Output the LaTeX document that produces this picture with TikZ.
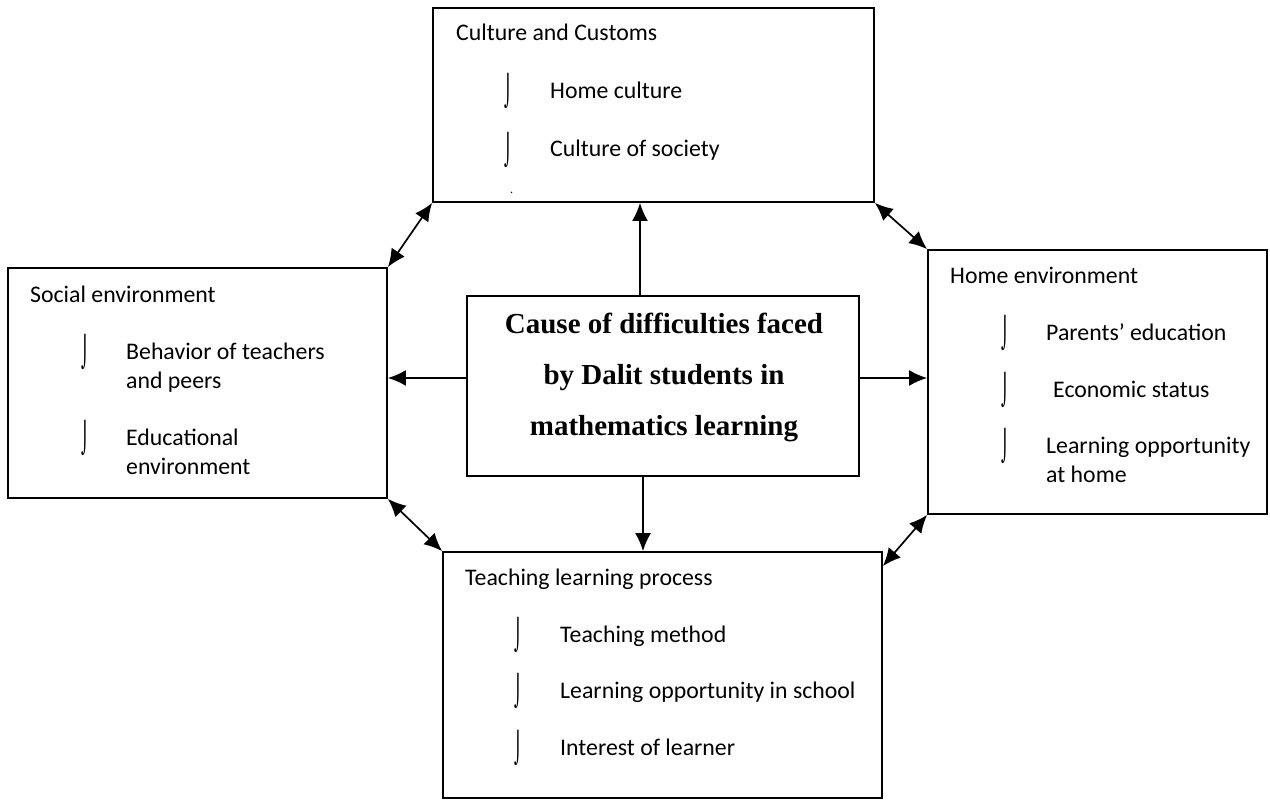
\documentclass[tikz,border=0pt]{standalone}
\usepackage{fontspec}
\setmainfont{Carlito}
\newfontfamily\titlefont{Liberation Serif}
\newfontfamily\bulletfont{DejaVu Sans}
\usetikzlibrary{arrows.meta}

\begin{document}
\begin{tikzpicture}[x=1pt,y=-1pt,
    box/.style={draw,line width=1.8pt,inner sep=0pt},
    lbl/.style={anchor=base west,inner sep=0pt,align=left,font=\fontsize{23.8}{29}\selectfont},
    bul/.style={anchor=base west,inner sep=0pt,font=\bulletfont\fontsize{30}{30}\selectfont},
    link/.style={line width=1.7pt,-{Latex[length=18pt,width=16pt]}},
    dlink/.style={line width=1.7pt,{Latex[length=18pt,width=16pt]}-{Latex[length=18pt,width=16pt]}}]
            \useasboundingbox (0,0) rectangle (1270,800);
            % boxes
            \node[box,minimum width=441pt,minimum height=194pt] (culture) at (653.5,105) {};
            \node[box,minimum width=379pt,minimum height=230pt] (social) at (197.5,383) {};
            \node[box,minimum width=339pt,minimum height=264pt] (home) at (1097.5,382) {};
            \node[box,minimum width=439pt,minimum height=246pt] (teach) at (662.5,675) {};
            \node[box,minimum width=392pt,minimum height=180pt] (cause) at (663,386) {};
            \node[anchor=north,inner sep=0pt,align=center,font=\titlefont\bfseries\fontsize{29}{51}\selectfont] (causetxt) at (664,313)
                {Cause of difficulties faced\\by Dalit students in\\mathematics learning};
            % culture and customs
            \node[lbl] (culttitle) at (456,41) {Culture and Customs};
            \node[bul] (cultb1) at (504,102) {\scalebox{0.5}[1]{⌡}};
            \node[lbl] (cult1) at (550,99) {Home culture};
            \node[bul] (cultb2) at (504,160) {\scalebox{0.5}[1]{⌡}};
            \node[lbl] (cult2) at (550,157) {Culture of society};
            \node[lbl,font=\fontsize{12}{14}\selectfont] (cultb3) at (510,193) {.};
            % social environment
            \node[lbl] (soctitle) at (30,302) {Social environment};
            \node[bul] (socb1) at (81,362) {\scalebox{0.5}[1]{⌡}};
            \node[lbl] (soc1) at (126,388) {Behavior of teachers\\and peers};
            \node[bul] (socb2) at (81,448) {\scalebox{0.5}[1]{⌡}};
            \node[lbl] (soc2) at (126,474) {Educational\\environment};
            % home environment
            \node[lbl] (hometitle) at (950,283) {Home environment};
            \node[bul] (homeb1) at (1001,343) {\scalebox{0.5}[1]{⌡}};
            \node[lbl] (home1) at (1046,340) {Parents’ education};
            \node[bul] (homeb2) at (1001,400) {\scalebox{0.5}[1]{⌡}};
            \node[lbl] (home2) at (1053,397) {Economic status};
            \node[bul] (homeb3) at (1001,456) {\scalebox{0.5}[1]{⌡}};
            \node[lbl] (home3) at (1046,482) {Learning opportunity\\at home};
            % teaching learning process
            \node[lbl] (teachtitle) at (465,585) {Teaching learning process};
            \node[bul] (teachb1) at (514,645) {\scalebox{0.5}[1]{⌡}};
            \node[lbl] (teach1) at (560,642) {Teaching method};
            \node[bul] (teachb2) at (514,701) {\scalebox{0.5}[1]{⌡}};
            \node[lbl] (teach2) at (560,698) {Learning opportunity in school};
            \node[bul] (teachb3) at (514,758) {\scalebox{0.5}[1]{⌡}};
            \node[lbl] (teach3) at (560,755) {Interest of learner};
            % arrows from the centre
            \draw[link] (cause.north -| 640,0) -- (culture.south -| 640,0);
            \draw[link] (cause.west |- 0,378) -- (social.east |- 0,378);
            \draw[link] (cause.east |- 0,378) -- (home.west |- 0,378);
            \draw[link] (cause.south -| 643,0) -- (teach.north -| 643,0);
            % arrows between the boxes
            \draw[dlink] (social.north east) -- (culture.south west);
            \draw[dlink] (culture.south east) -- (home.north west);
            \draw[dlink] (social.south east) -- (teach.north west);
            \draw[dlink] (home.south west) -- ([yshift=-15pt]teach.north east);
\end{tikzpicture}
\end{document}
